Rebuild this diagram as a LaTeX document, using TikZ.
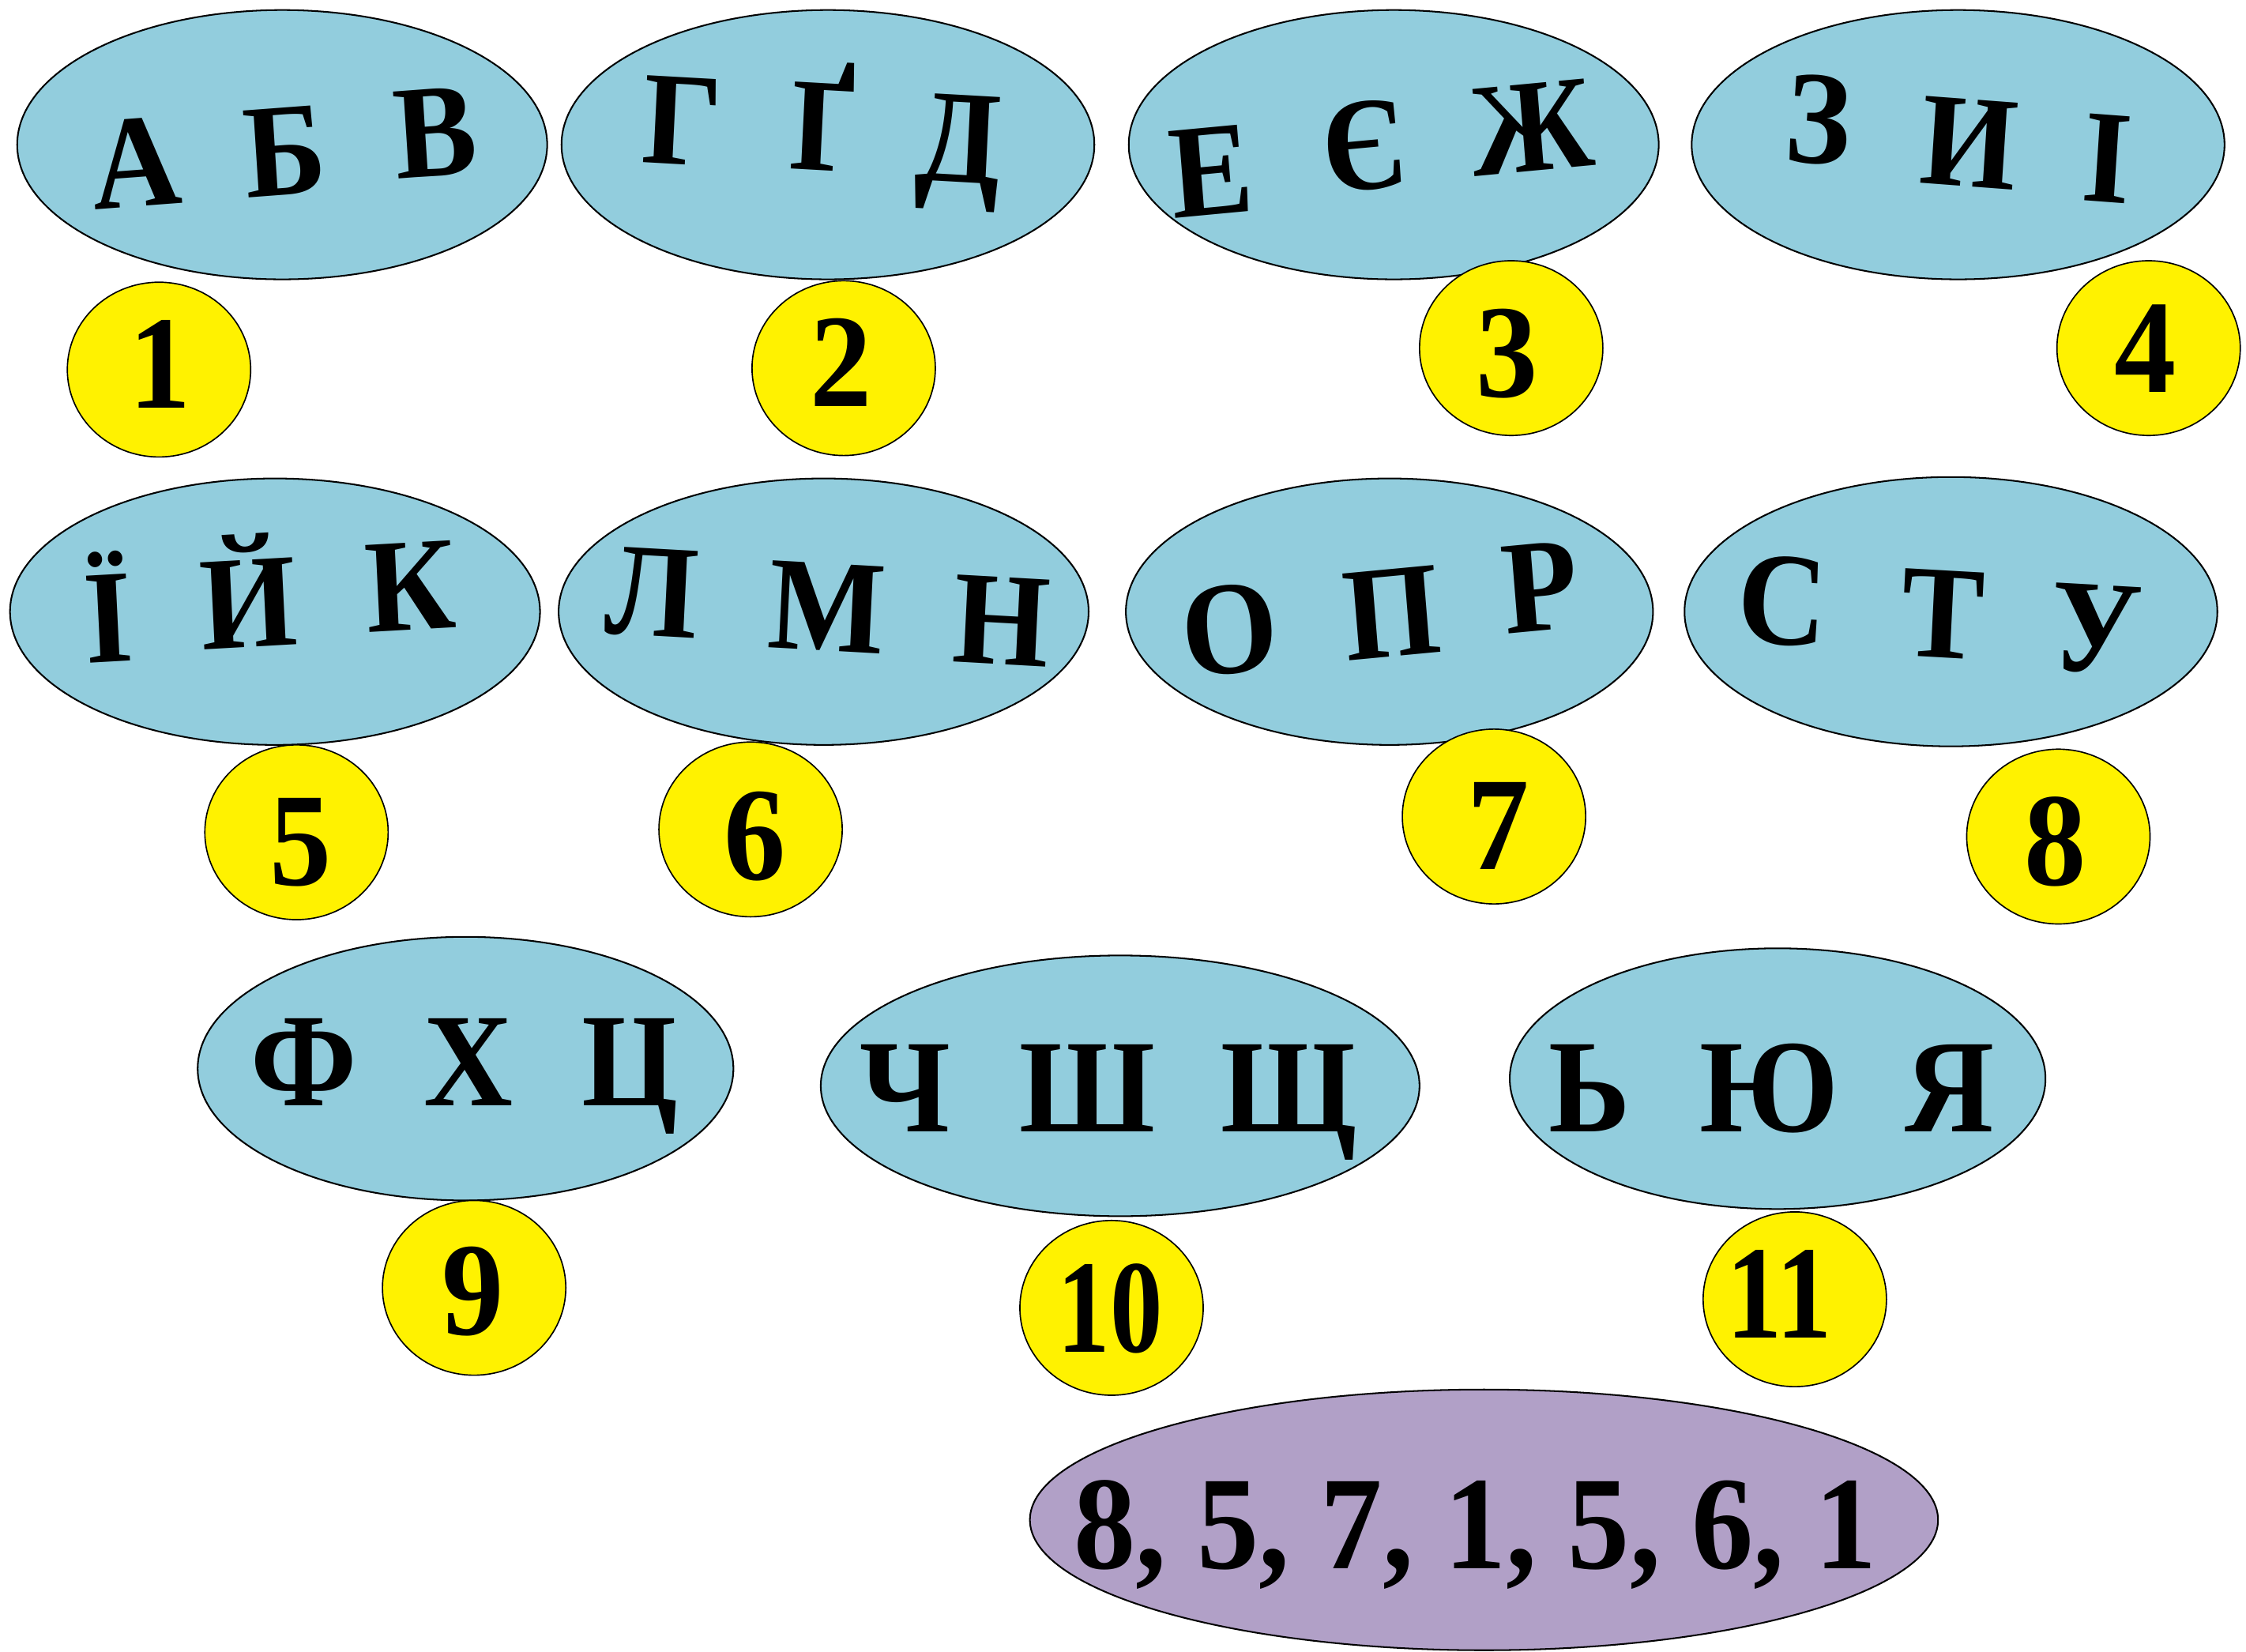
\documentclass[tikz,border=0pt]{standalone}
\usepackage{fontspec}
\setmainfont{Liberation Serif}
\usetikzlibrary{shapes.geometric}
\definecolor{ovalblue}{RGB}{146,205,221}
\definecolor{lav}{RGB}{177,160,199}
\begin{document}
\begin{tikzpicture}[x=0.5mm,y=-0.5mm,
  oval/.style={ellipse, draw=black, line width=1.6pt, fill=ovalblue, inner sep=0pt},
  ball/.style={ellipse, draw=black, line width=1.3pt, fill=yellow, inner sep=0pt, minimum width=64mm, minimum height=61mm},
  lt/.style={anchor=base, inner sep=0pt, xscale=0.93, font=\bfseries\fontsize{132pt}{132pt}\selectfont},
]
\useasboundingbox (0,0) rectangle (1568,1153);
% blue ovals
\node[oval, minimum width=185mm, minimum height=94mm] (e1) at (197,101) {};
\node[oval, minimum width=186mm, minimum height=94mm] (e2) at (578,101) {};
\node[oval, minimum width=185mm, minimum height=94mm] (e3) at (973,101) {};
\node[oval, minimum width=186mm, minimum height=94mm] (e4) at (1367,101) {};
\node[oval, minimum width=185mm, minimum height=93mm] (e5) at (192,427) {};
\node[oval, minimum width=185mm, minimum height=93mm] (e6) at (575,427) {};
\node[oval, minimum width=184mm, minimum height=93mm] (e7) at (970,427) {};
\node[oval, minimum width=186mm, minimum height=94mm] (e8) at (1362,427) {};
\node[oval, minimum width=187mm, minimum height=92mm] (e9) at (325,746) {};
\node[oval, minimum width=209mm, minimum height=91mm] (e10) at (782,758) {};
\node[oval, minimum width=187mm, minimum height=91mm] (e11) at (1241,753) {};
\node[ellipse, draw=black, line width=1.6pt, fill=lav, inner sep=0pt, minimum width=317mm, minimum height=91mm] (p) at (1036,1061) {};
% letters
\node[lt, rotate=4] (a1) at (97,144) {А};
\node[lt, rotate=4] (a2) at (201,136) {Б};
\node[lt, rotate=4] (a3) at (306,123) {В};
\node[lt, rotate=-3] (b1) at (475,115) {Г};
\node[lt, rotate=-3] (b2) at (573,119) {Ґ};
\node[lt, rotate=-3] (b3) at (668,127) {Д};
\node[lt, rotate=5] (c1l) at (848,150) {Е};
\node[lt, rotate=5] (c2l) at (955,132) {Є};
\node[lt, rotate=5] (c3l) at (1072,119) {Ж};
\node[lt, rotate=-4] (d1) at (1268,114) {З};
\node[lt, rotate=-4] (d2) at (1373,130) {И};
\node[lt, rotate=-4] (d3) at (1469,141) {І};
\node[lt, rotate=3] (f1) at (77,462) {Ї};
\node[lt, rotate=3] (f2) at (175,452) {Й};
\node[lt, rotate=3] (f3) at (288,440) {К};
\node[lt, rotate=-3] (g1) at (454,444) {Л};
\node[lt, rotate=-3] (g2) at (576,454) {М};
\node[lt, rotate=-3] (g3) at (698,464) {Н};
\node[lt, rotate=5] (h1) at (861,470) {О};
\node[lt, rotate=5] (h2) at (974,458) {П};
\node[lt, rotate=5] (h3) at (1078,440) {Р};
\node[lt, rotate=-3] (i1) at (1243,450) {С};
\node[lt, rotate=-3] (i2) at (1355,459) {Т};
\node[lt, rotate=-3] (i3) at (1462,469) {У};
\node[lt] (j1) at (212,772) {Ф};
\node[lt] (j2) at (327,772) {Х};
\node[lt] (j3) at (440,772) {Ц};
\node[lt] (k1) at (632,790) {Ч};
\node[lt] (k2) at (759,790) {Ш};
\node[lt] (k3) at (900,790) {Щ};
\node[lt] (m1) at (1110,790) {Ь};
\node[lt] (m2) at (1235,790) {Ю};
\node[lt] (m3) at (1361,790) {Я};
% yellow balls
\node[ball] (n1) at (111,258) {};
\node[ball] (n2) at (589,257) {};
\node[ball] (n3) at (1055,243) {};
\node[ball] (n4) at (1500,243) {};
\node[ball] (n5) at (207,581) {};
\node[ball] (n6) at (524,579) {};
\node[ball] (n7) at (1043,570) {};
\node[ball] (n8) at (1437,584) {};
\node[ball] (n9) at (331,899) {};
\node[ball] (n10) at (776,913) {};
\node[ball] (n11) at (1253,907) {};
\node[lt] (t1) at (112,285) {1};
\node[lt] (t2) at (587,284) {2};
\node[lt] (t3) at (1052,277) {3};
\node[lt] (t4) at (1498,274) {4};
\node[lt] (t5) at (210,618) {5};
\node[lt] (t6) at (527,614) {6};
\node[lt] (t7) at (1046,607) {7};
\node[lt] (t8) at (1435,618) {8};
\node[lt] (t9) at (330,932) {9};
\node[lt, xscale=0.85] (t10) at (775,944) {10};
\node[lt, xscale=0.9] (t11) at (1242,934) {11};
\node[lt] (code) at (1030,1095) {8, 5, 7, 1, 5, 6, 1};
\end{tikzpicture}
\end{document}
